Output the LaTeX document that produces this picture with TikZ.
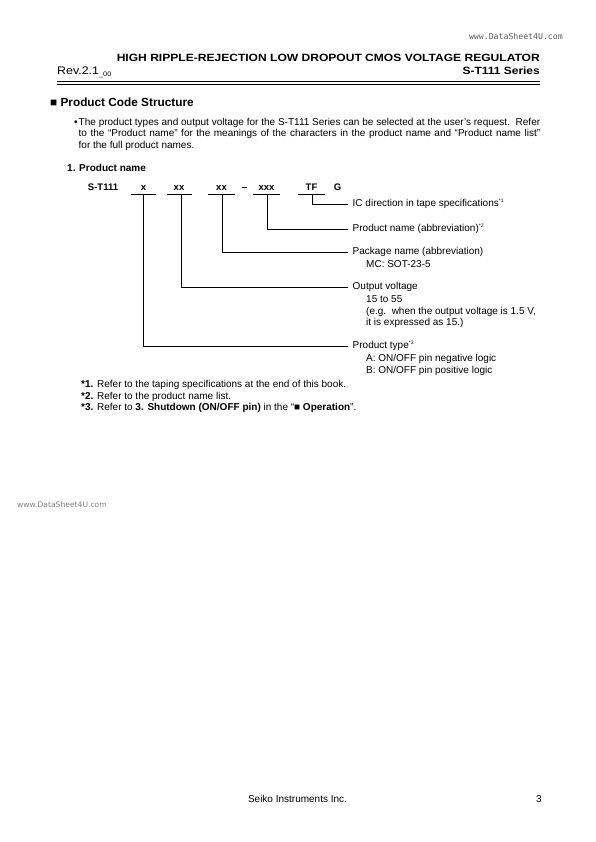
\documentclass[tikz,border=0pt]{standalone}
\usepackage{fontspec}
\setmainfont{Liberation Sans}
\newfontfamily\monofont{DejaVu Sans Mono}
\newfontfamily\wmfont{DejaVu Sans}
\begin{document}
\begin{tikzpicture}[x=1pt,y=-1pt,
  txt/.style={inner sep=0pt, anchor=base west, font=\fontsize{10}{11.5}\selectfont},
  code/.style={inner sep=0pt, anchor=base, font=\fontsize{9.5}{10}\bfseries\selectfont},
  lab/.style={inner xsep=4.5pt, inner ysep=0pt, anchor=west, font=\fontsize{10}{11.5}\selectfont},
  sub/.style={inner sep=0pt, anchor=base west, font=\fontsize{10}{11.5}\selectfont},
  uline/.style={line width=0.7pt},
  conn/.style={line width=0.7pt}]
\useasboundingbox (0,0) rectangle (595,842);
% header
\node[inner sep=0pt, anchor=base east, font=\monofont\fontsize{8.2}{9}\selectfont, text=black!65] (wm1) at (563,40) {www.DataSheet4U.com};
\node[inner sep=0pt, anchor=base east, font=\fontsize{10.5}{12}\bfseries\selectfont] (title) at (540,62) {\scalebox{1.148}[1]{HIGH RIPPLE-REJECTION LOW DROPOUT CMOS VOLTAGE REGULATOR}};
\node[inner sep=0pt, anchor=base west, font=\fontsize{11}{12}\selectfont] (rev) at (57,75) {\scalebox{1.13}[1]{Rev.2.1\raisebox{-1.2pt}{\fontsize{6.5}{7}\selectfont\_00}}};
\node[inner sep=0pt, anchor=base east, font=\fontsize{10.5}{12}\bfseries\selectfont] (series) at (540,75) {\scalebox{1.14}[1]{S-T111 Series}};
\draw[line width=1.6pt] (57,81.4) -- (540,81.4);
\draw[line width=0.9pt] (57,84.8) -- (540,84.8);
% section
\node[inner sep=0pt, anchor=base west, font=\fontsize{11.8}{13}\bfseries\selectfont] (sec) at (50,106.5) {■ Product Code Structure};
\node[txt] (bul) at (74,125.5) {•};
\node[txt] (p1) at (78.5,125.5) {\makebox[461.5pt][s]{The product types and output voltage for the S-T111 Series can be selected at the user’s request.\ \ Refer}};
\node[txt] (p2) at (78.5,137) {\makebox[461.5pt][s]{to the “Product name” for the meanings of the characters in the product name and “Product name list”}};
\node[txt] (p3) at (78.5,148.5) {for the full product names.};
\node[txt, font=\fontsize{10}{11}\bfseries\selectfont] (pn) at (67,171.5) {1. Product name};
% code
\node[code] (st) at (103,190.5) {S-T111};
\node[code] (c1) at (143.5,190.5) {x};
\node[code] (c2) at (179,190.5) {xx};
\node[code] (c3) at (221.5,190.5) {xx};
\node[code] (dash) at (244.5,190.5) {–};
\node[code] (c4) at (266.5,190.5) {xxx};
\node[code] (c5) at (311.5,190.5) {TF};
\node[code] (c6) at (337.5,190.5) {G};
\coordinate (u1) at (143.5,194);
\coordinate (u2) at (181,194);
\coordinate (u3) at (222,194);
\coordinate (u4) at (267.5,194);
\coordinate (u5) at (312,194);
\draw[uline] (130.5,194) -- (156,194);
\draw[uline] (166.5,194) -- (192,194);
\draw[uline] (207.5,194) -- (235,194);
\draw[uline] (253,194) -- (280,194);
\draw[uline] (298,194) -- (325,194);
% labels
\node[lab] (l5) at (348,204) {IC direction in tape specifications\textsuperscript{\fontsize{5}{6}\selectfont *1}};
\node[lab] (l4) at (348,229) {Product name (abbreviation)\textsuperscript{\fontsize{5}{6}\selectfont *2}};
\node[lab] (l3) at (348,252) {Package name (abbreviation)};
\node[sub] (l3a) at (366,267.5) {MC: SOT-23-5};
\node[lab] (l2) at (348,287) {Output voltage};
\node[sub] (l2a) at (366,302.5) {15 to 55};
\node[sub] (l2b) at (366,314) {(e.g.\ \ when the output voltage is 1.5 V,};
\node[sub] (l2c) at (366,325.5) {it is expressed as 15.)};
\node[lab] (l1) at (348,346) {Product type\textsuperscript{\fontsize{5}{6}\selectfont *3}};
\node[sub] (l1a) at (366,361.5) {A: ON/OFF pin negative logic};
\node[sub] (l1b) at (366,373) {B: ON/OFF pin positive logic};
\draw[conn] (u5) |- (l5.west);
\draw[conn] (u4) |- (l4.west);
\draw[conn] (u3) |- (l3.west);
\draw[conn] (u2) |- (l2.west);
\draw[conn] (u1) |- (l1.west);
% footnotes
\node[txt] (f1) at (81,387.5) {\textbf{*1.} Refer to the taping specifications at the end of this book.};
\node[txt] (f2) at (81,399) {\textbf{*2.} Refer to the product name list.};
\node[txt] (f3) at (81,410.5) {\textbf{*3.} Refer to \textbf{3. Shutdown (ON/OFF pin)} in the “\textbf{■ Operation}”.};
% watermark
\node[inner sep=0pt, anchor=base west, font=\wmfont\fontsize{7.6}{8}\selectfont, text=black!50] (wm2) at (17,507.5) {www.DataSheet4U.com};
% footer
\node[inner sep=0pt, anchor=base, font=\fontsize{10}{11}\selectfont] (foot) at (297.5,802.5) {Seiko Instruments Inc.};
\node[inner sep=0pt, anchor=base east, font=\fontsize{10}{11}\selectfont] (page) at (542,802.5) {3};
\end{tikzpicture}
\end{document}
